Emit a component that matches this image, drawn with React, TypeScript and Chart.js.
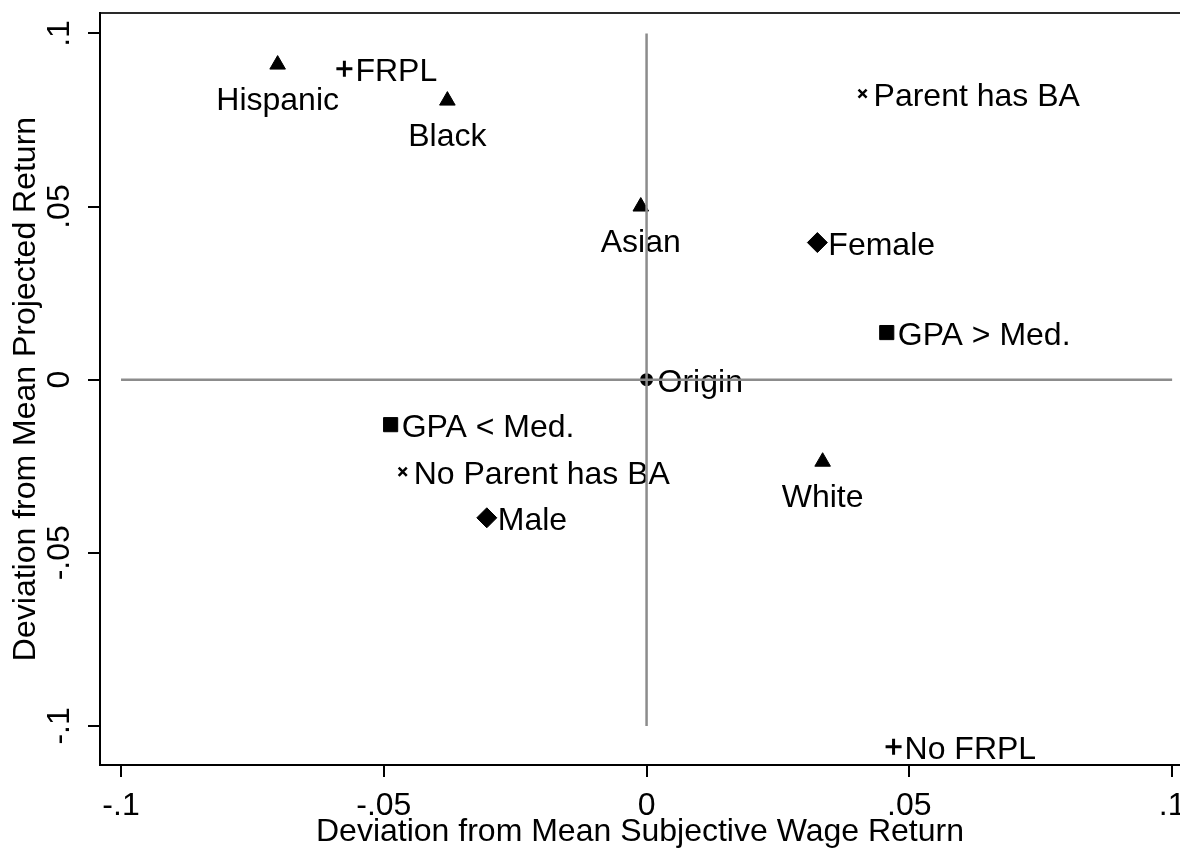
import React, { useEffect, useRef } from "react";
import { Chart, registerables } from "chart.js";

Chart.register(...registerables);

// ---- data ----
const GROUP_NAMES = [
  "Hispanic",
  "FRPL",
  "Black",
  "Parent has BA",
  "Asian",
  "Female",
  "GPA > Med.",
  "Origin",
  "GPA < Med.",
  "No Parent has BA",
  "White",
  "Male",
  "No FRPL",
];
const X_DEV = [-0.0702, -0.0575, -0.0379, 0.0411, -0.0011, 0.0325, 0.0457, 0, -0.0487, -0.0464, 0.0335, -0.0304, 0.047];
const Y_DEV = [0.091, 0.0898, 0.0806, 0.0826, 0.05, 0.0396, 0.0136, 0, -0.013, -0.0266, -0.0237, -0.0399, -0.106];
const MARKERS = [
  "triangle",
  "cross",
  "triangle",
  "crossRot",
  "triangle",
  "rectRot",
  "rect",
  "circle",
  "rect",
  "crossRot",
  "triangle",
  "rectRot",
  "cross",
];
const LABEL_SIDE = ["s", "e", "s", "e", "s", "e", "e", "e", "e", "e", "s", "e", "e"];

const X_TICKS = [-0.1, -0.05, 0, 0.05, 0.1];
const X_TICK_LABELS = ["-.1", "-.05", "0", ".05", ".1"];
const Y_TICKS = [-0.1, -0.05, 0, 0.05, 0.1];
const Y_TICK_LABELS = ["-.1", "-.05", "0", ".05", ".1"];

const VLINE_X = [0, 0];
const VLINE_Y = [-0.1, 0.1];
const HLINE_X = [-0.1, 0.1];
const HLINE_Y = [0, 0];

const X_TITLE = "Deviation from Mean Subjective Wage Return";
const Y_TITLE = "Deviation from Mean Projected Return";

const X_MIN = -0.104;
const X_MAX = 0.1015;
const Y_MIN = -0.1113;
const Y_MAX = 0.1059;

// ---- styles ----
const FONT_FAMILY = '"Liberation Sans", Arial, Helvetica, sans-serif';
const FONT_SIZE = 32;
const MARKER_RADIUS: Record<string, number> = {
  triangle: 9,
  rect: 10,
  rectRot: 10,
  cross: 8,
  crossRot: 5.7,
  circle: 5,
};
const MARKER_BORDER: Record<string, number> = {
  triangle: 1,
  rect: 1,
  rectRot: 1,
  cross: 3,
  crossRot: 2.5,
  circle: 3,
};
const REF_LINE_COLOR = "#8c8c8c";

const labelPlugin = {
  id: "pointLabels",
  afterDatasetDraw(chart: any, args: any) {
    if (args.index !== 0) return;
    const meta = chart.getDatasetMeta(0);
    const ctx = chart.ctx;
    ctx.save();
    ctx.font = `${FONT_SIZE}px ${FONT_FAMILY}`;
    ctx.fillStyle = "#000";
    ctx.textBaseline = "alphabetic";
    meta.data.forEach((pt: any, i: number) => {
      const name = GROUP_NAMES[i];
      if (LABEL_SIDE[i] === "s") {
        ctx.textAlign = "center";
        ctx.fillText(name, pt.x, pt.y + 45);
      } else {
        ctx.textAlign = "left";
        ctx.fillText(name, pt.x + 11, pt.y + 12.5);
      }
    });
    ctx.restore();
  },
};

function zeroPad(s: any) {
  s.paddingLeft = 0;
  s.paddingRight = 0;
  s.paddingTop = 0;
  s.paddingBottom = 0;
}

export default function App() {
  const ref = useRef<HTMLCanvasElement>(null);

  useEffect(() => {
    document.body.style.margin = "0";
    const font = { family: FONT_FAMILY, size: FONT_SIZE };
    const chart = new Chart(ref.current as HTMLCanvasElement, {
      type: "scatter",
      data: {
        datasets: [
          {
            label: "groups",
            data: GROUP_NAMES.map((_, i) => ({ x: X_DEV[i], y: Y_DEV[i] })),
            pointStyle: MARKERS as any,
            pointRadius: MARKERS.map((m) => MARKER_RADIUS[m]),
            pointBorderWidth: MARKERS.map((m) => MARKER_BORDER[m]),
            pointBackgroundColor: "#000",
            pointBorderColor: "#000",
            showLine: false,
            order: 1,
          } as any,
          {
            label: "vline",
            data: VLINE_X.map((x, i) => ({ x, y: VLINE_Y[i] })),
            showLine: true,
            borderColor: REF_LINE_COLOR,
            borderWidth: 2.5,
            pointRadius: 0,
            order: 0,
          } as any,
          {
            label: "hline",
            data: HLINE_X.map((x, i) => ({ x, y: HLINE_Y[i] })),
            showLine: true,
            borderColor: REF_LINE_COLOR,
            borderWidth: 2.5,
            pointRadius: 0,
            order: 0,
          } as any,
        ],
      },
      options: {
        responsive: false,
        animation: false,
        devicePixelRatio: 1,
        events: [],
        layout: { padding: 0, autoPadding: false },
        plugins: {
          legend: { display: false },
          tooltip: { enabled: false },
        },
        scales: {
          x: {
            type: "linear",
            position: "bottom",
            min: X_MIN,
            max: X_MAX,
            afterBuildTicks: (s: any) => {
              s.ticks = X_TICKS.map((v) => ({ value: v }));
            },
            afterFit: (s: any) => {
              s.height = 86;
              zeroPad(s);
            },
            ticks: {
              callback: (v: any) => X_TICK_LABELS[X_TICKS.indexOf(Number(v))],
              font,
              color: "#000",
              padding: 10,
              minRotation: 0,
              maxRotation: 0,
              autoSkip: false,
            },
            grid: {
              display: true,
              drawOnChartArea: false,
              drawTicks: true,
              tickLength: 12,
              color: "#000",
              lineWidth: 2,
            },
            border: { display: true, color: "#000", width: 2 },
            title: {
              display: true,
              text: X_TITLE,
              font,
              color: "#000",
              padding: { top: 0, bottom: 0 },
            },
          },
          x2: {
            type: "linear",
            position: "top",
            min: X_MIN,
            max: X_MAX,
            display: true,
            afterFit: (s: any) => {
              s.height = 13;
              zeroPad(s);
            },
            ticks: { display: false },
            grid: { display: true, drawOnChartArea: false, drawTicks: false },
            border: { display: true, color: "#2a2a2a", width: 2 },
          },
          y: {
            type: "linear",
            position: "left",
            min: Y_MIN,
            max: Y_MAX,
            afterBuildTicks: (s: any) => {
              s.ticks = Y_TICKS.map((v) => ({ value: v }));
            },
            afterFit: (s: any) => {
              s.width = 100;
              zeroPad(s);
            },
            ticks: {
              callback: (v: any) => Y_TICK_LABELS[Y_TICKS.indexOf(Number(v))],
              font,
              color: "#000",
              padding: 0,
              minRotation: 90,
              maxRotation: 90,
              crossAlign: "center",
              autoSkip: false,
            },
            grid: {
              display: true,
              drawOnChartArea: false,
              drawTicks: true,
              tickLength: 12,
              color: "#000",
              lineWidth: 2,
            },
            border: { display: true, color: "#000", width: 2 },
            title: {
              display: true,
              text: Y_TITLE,
              font,
              color: "#000",
              padding: { top: 7, bottom: 0 },
            },
          },
        },
      } as any,
      plugins: [labelPlugin],
    });
    return () => chart.destroy();
  }, []);

  return (
    <div style={{ position: "absolute", left: 0, top: 0, width: 1180, height: 851, background: "#fff" }}>
      <canvas ref={ref} width={1180} height={851} style={{ display: "block", width: 1180, height: 851 }} />
    </div>
  );
}
